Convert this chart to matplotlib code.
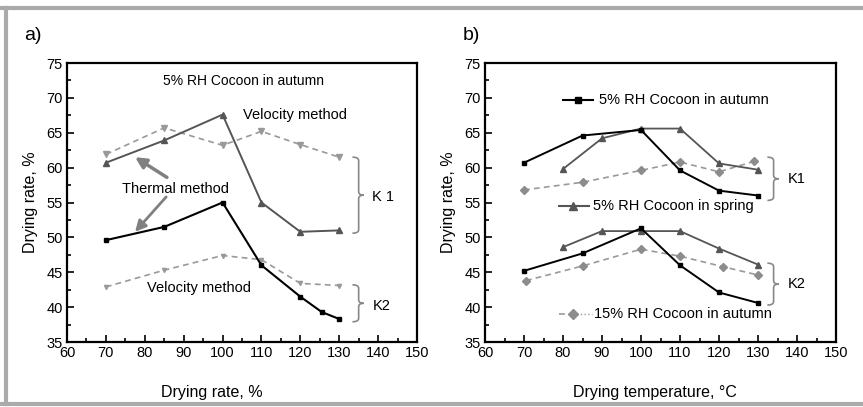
import matplotlib
matplotlib.use("Agg")
import matplotlib.pyplot as plt
from matplotlib.lines import Line2D
from matplotlib.path import Path
from matplotlib.patches import PathPatch
from matplotlib.ticker import MultipleLocator

plt.rcParams['font.family'] = ['Liberation Sans', 'DejaVu Sans']

# ---- panel a data ----
a_x = [70, 85, 100, 110, 120, 130]
a_thermal_k1 = [60.7, 63.9, 67.6, 55.0, 50.8, 51.0]
a_velocity_k1 = [61.9, 65.7, 63.2, 65.2, 63.3, 61.5]
a_x_k2 = [70, 85, 100, 110, 120, 125.5, 130]
a_thermal_k2 = [49.6, 51.5, 55.0, 46.0, 41.5, 39.3, 38.3]
a_velocity_k2 = [42.9, 45.3, 47.4, 46.8, 43.4, 43.1]

# ---- panel b data ----
b_x = [70, 85, 100, 110, 120, 130]
b_x_spring = [80, 90, 100, 110, 120, 130]
b_x_15 = [70, 85, 100, 110, 120, 129]
b_x_15_k2 = [70.5, 85, 100, 110, 121, 130]
b_autumn5_k1 = [60.7, 64.6, 65.4, 59.6, 56.7, 56.0]
b_autumn5_k2 = [45.2, 47.7, 51.3, 46.0, 42.1, 40.6]
b_spring5_k1 = [59.8, 64.2, 65.6, 65.6, 60.6, 59.7]
b_spring5_k2 = [48.6, 50.9, 50.9, 50.9, 48.4, 46.1]
b_autumn15_k1 = [56.8, 57.9, 59.6, 60.8, 59.4, 60.9]
b_autumn15_k2 = [43.8, 45.9, 48.3, 47.3, 45.8, 44.6]

BLACK = '#000000'
DARK = '#555555'
LIGHT = '#999999'
DASH = (0, (3.5, 2.5))

fig = plt.figure(figsize=(8.63, 4.07), dpi=100)


def style_axes(ax):
    ax.set_xlim(60, 150)
    ax.set_ylim(35, 75)
    ax.xaxis.set_major_locator(MultipleLocator(10))
    ax.xaxis.set_minor_locator(MultipleLocator(5))
    ax.yaxis.set_major_locator(MultipleLocator(5))
    ax.yaxis.set_minor_locator(MultipleLocator(2.5))
    ax.tick_params(which='both', direction='in', top=False, right=False,
                   labelsize=10.5, width=1.2, pad=3)
    ax.tick_params(which='major', length=5)
    ax.tick_params(which='minor', length=3)
    for s in ax.spines.values():
        s.set_linewidth(1.6)
    ax.set_ylabel('Drying rate, %', fontsize=11.5, labelpad=6)


def brace(ax, x, y0, y1, color='#888888'):
    w = 1.6
    h = 0.5
    ym = (y0 + y1) / 2
    verts = [(x - w, y0), (x, y0), (x, y0 - h),
             (x, ym + h), (x, ym), (x + w * 0.8, ym),
             (x, ym), (x, ym - h),
             (x, y1 + h), (x, y1), (x - w, y1)]
    codes = [Path.MOVETO, Path.CURVE3, Path.CURVE3,
             Path.LINETO, Path.CURVE3, Path.CURVE3,
             Path.CURVE3, Path.CURVE3,
             Path.LINETO, Path.CURVE3, Path.CURVE3]
    ax.add_patch(PathPatch(Path(verts, codes), fc='none', ec=color, lw=1.2,
                           clip_on=False))


# ---- panel a ----
ax1 = fig.add_axes([67 / 863, 65 / 407, 350 / 863, 279 / 407])
style_axes(ax1)
ax1.plot(a_x, a_velocity_k1, ls=DASH, color=LIGHT, lw=1.2, marker='v', ms=4)
ax1.plot(a_x, a_velocity_k2, ls=DASH, color=LIGHT, lw=1.2, marker='v', ms=3)
ax1.plot(a_x, a_thermal_k1, color=DARK, lw=1.4, marker='^', ms=4.5)
ax1.plot(a_x_k2, a_thermal_k2, color=BLACK, lw=1.5, marker='s', ms=3.5)
ax1.set_xlabel('Drying rate, %', fontsize=11.5)
ax1.xaxis.set_label_coords((212 - 67) / 350, -(385 - 342) / 279)

ax1.text(105.3, 72.4, '5% RH Cocoon in autumn', ha='center', va='center', fontsize=10)
ax1.text(118.6, 67.6, 'Velocity method', ha='center', va='center', fontsize=10.5)
ax1.text(87.8, 56.9, 'Thermal method', ha='center', va='center', fontsize=10.5)
ax1.text(94.0, 42.7, 'Velocity method', ha='center', va='center', fontsize=10.5)
ax1.annotate('', xy=(77.5, 61.5), xytext=(85.7, 58.6),
             arrowprops=dict(arrowstyle='-|>', color='#808080', lw=2.5,
                             mutation_scale=16, shrinkA=0, shrinkB=0))
ax1.annotate('', xy=(77.5, 50.8), xytext=(85.5, 55.8),
             arrowprops=dict(arrowstyle='-|>', color='#808080', lw=2.0,
                             mutation_scale=16, shrinkA=0, shrinkB=0))
brace(ax1, 135.0, 61.5, 50.6)
brace(ax1, 135.0, 43.2, 37.9)
ax1.text(138.5, 55.8, 'K 1', ha='left', va='center', fontsize=10.5)
ax1.text(138.5, 40.2, 'K2', ha='left', va='center', fontsize=10.5)
fig.text(24 / 863, 1 - 35 / 407, 'a)', fontsize=14, va='center')

# ---- panel b ----
ax2 = fig.add_axes([485 / 863, 65 / 407, 351 / 863, 279 / 407])
style_axes(ax2)
ax2.plot(b_x_15, b_autumn15_k1, ls=DASH, color=LIGHT, lw=1.2, marker='D', ms=4.5,
         mfc='#8c8c8c', mec='#8c8c8c')
ax2.plot(b_x_15_k2, b_autumn15_k2, ls=DASH, color=LIGHT, lw=1.2, marker='D', ms=4.5,
         mfc='#8c8c8c', mec='#8c8c8c')
ax2.plot(b_x_spring, b_spring5_k1, color=DARK, lw=1.3, marker='^', ms=5)
ax2.plot(b_x_spring, b_spring5_k2, color=DARK, lw=1.3, marker='^', ms=5)
ax2.plot(b_x, b_autumn5_k1, color=BLACK, lw=1.4, marker='s', ms=3.5)
ax2.plot(b_x, b_autumn5_k2, color=BLACK, lw=1.4, marker='s', ms=3.5)
ax2.set_xlabel('Drying temperature, °C', fontsize=11.5)
ax2.xaxis.set_label_coords((655 - 485) / 351, -(385 - 342) / 279)

# inline legend entries
ax2.plot([80, 87.7], [69.7, 69.7], color=BLACK, lw=1.5)
ax2.plot([83.8], [69.7], color=BLACK, marker='s', ms=5)
ax2.text(89.2, 69.7, '5% RH Cocoon in autumn', ha='left', va='center', fontsize=10.5)
ax2.plot([79, 86.7], [54.5, 54.5], color=DARK, lw=1.5)
ax2.plot([82.6], [54.5], color=DARK, marker='^', ms=6)
ax2.text(87.7, 54.5, '5% RH Cocoon in spring', ha='left', va='center', fontsize=10.5)
ax2.plot([79, 82.4], [39.0, 39.0], color=LIGHT, lw=1.2, ls=DASH)
ax2.plot([82.6, 87.4], [39.0, 39.0], color=LIGHT, lw=1.0, ls=':')
ax2.plot([82.6], [39.0], color='#8c8c8c', marker='D', ms=5)
ax2.text(88.0, 39.0, '15% RH Cocoon in autumn', ha='left', va='center', fontsize=10.5)
brace(ax2, 134.0, 61.5, 55.3)
brace(ax2, 134.0, 46.3, 40.3)
ax2.text(137.5, 58.3, 'K1', ha='left', va='center', fontsize=10.5)
ax2.text(137.5, 43.3, 'K2', ha='left', va='center', fontsize=10.5)
fig.text(463 / 863, 1 - 35 / 407, 'b)', fontsize=14, va='center')

# grey outer frame
frame = '#aaaaaa'
fig.add_artist(Line2D([0, 1], [1 - 8 / 407] * 2, color=frame, lw=3, transform=fig.transFigure))
fig.add_artist(Line2D([0, 1], [1 - 404 / 407] * 2, color=frame, lw=3, transform=fig.transFigure))
fig.add_artist(Line2D([6 / 863] * 2, [1 - 8 / 407, 1 - 404 / 407], color=frame, lw=3,
                      transform=fig.transFigure))

fig.savefig('out.png', dpi=100)
